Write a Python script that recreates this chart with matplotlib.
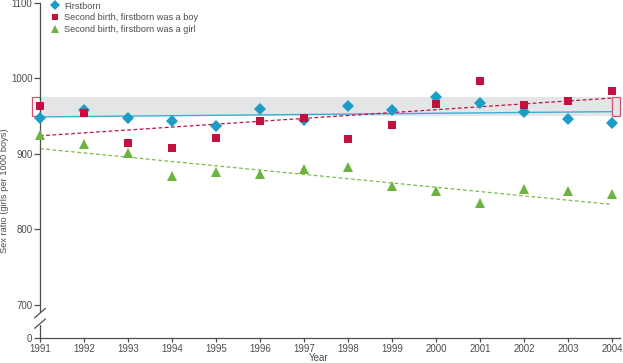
import numpy as np
import matplotlib
matplotlib.use('Agg')
import matplotlib.pyplot as plt
from matplotlib.transforms import blended_transform_factory

plt.rcParams['font.family'] = ['Liberation Sans Narrow', 'Liberation Sans', 'DejaVu Sans']

years = [1991, 1992, 1993, 1994, 1995, 1996, 1997, 1998, 1999, 2000, 2001, 2002, 2003, 2004]
firstborn = [947, 958, 947, 944, 937, 959, 945, 963, 958, 975, 967, 955, 946, 941]
boy_first = [963, 954, 915, 908, 921, 944, 947, 920, 938, 966, 997, 965, 970, 984]
girl_first = [925, 913, 901, 871, 876, 873, 880, 882, 858, 851, 835, 853, 851, 847]

# trend lines, end points (1991, 2004)
trend_years = [1991, 2004]
firstborn_trend = [949, 956]
boy_trend = [924, 974]
girl_trend = [907, 833]

band = [950, 975]  # grey reference band

blue = '#1b9dc8'
red = '#c2113f'
green = '#6cb33f'
grey_txt = '#4d4d4d'

y_zero = 656  # where the "0" sits below the axis break

fig = plt.figure(figsize=(6.23, 3.63), dpi=100)
ax = fig.add_axes([40 / 623, 25 / 363, 580 / 623, 335 / 363])

ax.axhspan(band[0], band[1], xmin=0, xmax=1, color='#e4e5e6', zorder=0, lw=0)
ax.add_patch(plt.Rectangle((1990.82, band[0]), 0.18, band[1] - band[0], fill=False,
                           ec='#d0506e', lw=0.9, clip_on=False, zorder=1))
ax.add_patch(plt.Rectangle((2004.0, band[0]), 0.18, band[1] - band[0], fill=False,
                           ec='#d0506e', lw=0.9, clip_on=False, zorder=1))

ax.plot(trend_years, firstborn_trend, color='#3aaed4', lw=1.0, zorder=2)
ax.plot(trend_years, boy_trend, color=red, lw=0.9, ls=(0, (3, 2)), zorder=2)
ax.plot(trend_years, girl_trend, color='#7dbb4e', lw=0.9, ls=(0, (3, 2)), zorder=2)

ax.plot(years, firstborn, 'D', color=blue, ms=6.5, mew=0, zorder=3, clip_on=False,
        label='Firstborn')
ax.plot(years, boy_first, 's', color=red, ms=5.5, mew=0, zorder=4, clip_on=False,
        label='Second birth, firstborn was a boy')
ax.plot(years, girl_first, '^', color=green, ms=7, mew=0, zorder=3, clip_on=False,
        label='Second birth, firstborn was a girl')

ax.set_xlim(1991, 2004.18)
ax.set_ylim(y_zero, 1100)
ax.set_xticks(years)
ax.set_xticklabels([str(y) for y in years])
ax.set_yticks([y_zero, 700, 800, 900, 1000, 1100])
ax.set_yticklabels(['0', '700', '800', '900', '1000', '1100'])

for side in ['top', 'right']:
    ax.spines[side].set_visible(False)
for side in ['left', 'bottom']:
    ax.spines[side].set_color(grey_txt)
    ax.spines[side].set_linewidth(0.9)

ax.tick_params(axis='both', colors=grey_txt, labelsize=7, width=0.9)
ax.tick_params(axis='y', length=4, pad=1.5)
ax.tick_params(axis='x', length=3, pad=1.5)

ax.set_xlabel('Year', fontsize=7, color=grey_txt)
ax.xaxis.set_label_coords(0.48, -0.045)
ax.set_ylabel('Sex ratio (girls per 1000 boys)', fontsize=6.7, color=grey_txt)
ax.yaxis.set_label_coords(-0.053, 0.44)

# axis break on the y axis
tr = blended_transform_factory(ax.transAxes, ax.transData)
ax.plot([0, 0], [676, 688], transform=tr, color='white', lw=3, clip_on=False, zorder=5)
dx = 0.009
ax.plot([-dx, dx], [683, 695], transform=tr, color=grey_txt, lw=0.9, clip_on=False, zorder=6)
ax.plot([-dx, dx], [669, 681], transform=tr, color=grey_txt, lw=0.9, clip_on=False, zorder=6)

leg = ax.legend(loc='upper left', bbox_to_anchor=(0.012, 1.015), frameon=False,
                fontsize=6.6, handletextpad=0.45, labelspacing=0.28, handlelength=1.0,
                borderaxespad=0, markerscale=0.8)
for t in leg.get_texts():
    t.set_color(grey_txt)

fig.savefig('out.png', dpi=100)
